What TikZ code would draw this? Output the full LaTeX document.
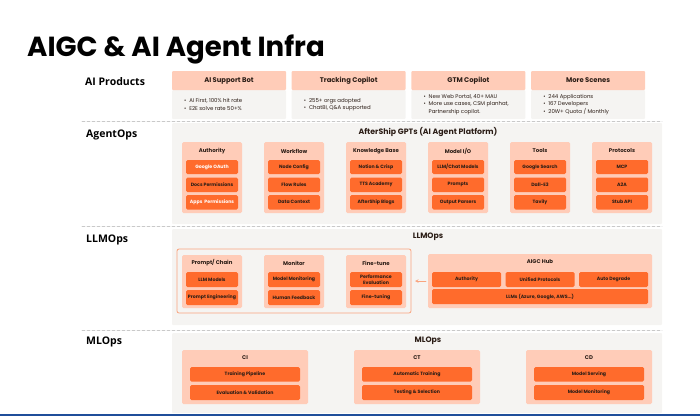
\documentclass[tikz,border=0pt]{standalone}
\usepackage{fontspec}
\setmainfont{Poppins}
\newfontfamily\labelfont{Open Sans}
\usetikzlibrary{positioning}

\definecolor{peach}{HTML}{FFCCB8}
\definecolor{hotorange}{HTML}{FF6B2C}
\definecolor{panelgray}{HTML}{F5F4F2}
\definecolor{inkdark}{HTML}{2B1D16}
\definecolor{dashgray}{HTML}{C9C9C9}
\definecolor{lineorange}{HTML}{F9A47E}
\definecolor{barblue}{HTML}{1F4E9A}

\begin{document}
\begin{tikzpicture}[x=1pt, y=-1pt, line cap=round, line join=round, >=stealth, text=inkdark]
	\tikzset{
		box/.style={inner sep=0pt, outer sep=0pt, anchor=north west},
		panel/.style={box, fill=panelgray, rounded corners=1pt},
		grp/.style={box, fill=peach, rounded corners=1.5pt},
		item/.style={box, fill=hotorange, rounded corners=1.5pt, align=center, font=\fontsize{4.7}{5.4}\selectfont\bfseries},
		grphead/.style={font=\fontsize{5.4}{6}\selectfont\bfseries},
		cardhead/.style={box, fill=peach, rounded corners=1pt, minimum width=114, minimum height=19, font=\fontsize{6.8}{8}\selectfont\bfseries},
		cardbody/.style={box, fill=panelgray, rounded corners=1pt, minimum width=114, minimum height=29},
		bullets/.style={anchor=west, align=left, inner sep=0pt, font=\fontsize{5.4}{7.4}\selectfont},
		secname/.style={anchor=west, inner sep=0pt, font=\labelfont\bfseries\fontsize{10.5}{12}\selectfont, text=black},
		midtitle/.style={inner sep=0pt, font=\fontsize{7.8}{9}\selectfont\bfseries},
		sepline/.style={dashgray, dash pattern=on 3pt off 2pt, line width=0.7pt}
	}
	\useasboundingbox (0,0) rectangle (700,416);

	% title
	\node[anchor=base west, inner sep=0pt, font=\bfseries\fontsize{27.6}{32}\selectfont, text=black] (title) at (27,56) {AIGC \& AI Agent Infra};

	% section names
	\node[secname] (sProd) at (85,81.5) {AI Products};
	\node[secname] (sAgent) at (86,135) {AgentOps};
	\node[secname] (sLLM) at (86,240) {LLMOps};
	\node[secname] (sML) at (86,342) {MLOps};

	% separators
	\draw[sepline] (82,121) -- (662,121);
	\draw[sepline] (82,226.5) -- (662,226.5);
	\draw[sepline] (82,330) -- (662,330);

	% AI products
	\foreach \i/\ttl/\txt in {
		0/AI Support Bot/{\textbullet~ AI First, 100\% hit rate\\\textbullet~ E2E solve rate 50+\%},
		1/Tracking Copilot/{\textbullet~ 255+ orgs adopted\\\textbullet~ ChatBI, Q\&A supported},
		2/GTM Copilot/{\textbullet~ New Web Portal, 40+ MAU\\\textbullet~ More use cases, CSM planhat,\\\phantom{\textbullet~ }Partnership copilot.},
		3/More Scenes/{\textbullet~ 244 Applications\\\textbullet~ 167 Developers\\\textbullet~ 20W+ Quota / Monthly}}
	{
		\pgfmathsetmacro{\cx}{172+119.7*\i}
		\node[cardbody] (pb\i) at (\cx,90) {};
		\node[cardhead] (ph\i) at (\cx,71) {\ttl};
		\node[bullets] (pt\i) at (\cx+12,104.5) {\txt};
	}

	% AgentOps
	\node[panel, minimum width=490, minimum height=101] (agentPanel) at (172,123) {};
	\node[midtitle] (agentTitle) at (428,132) {AfterShip GPTs (AI Agent Platform)};
	\foreach \i/\hd/\ia/\ib/\ic in {
		0/Authority/{\color{white}Google OAuth}/Docs Permissions/{\color{white}Apps~ Permissions},
		1/Workflow/Node Config/Flow Rules/Data Context,
		2/Knowledge Base/Notion \& Crisp/TTS Academy/AfterShip Blogs,
		3/{Model I/O}/{LLM/Chat Models}/Prompts/Output Parsers,
		4/Tools/Google Search/Dall-E3/Tavily,
		5/Protocols/MCP/A2A/Stub API}
	{
		\pgfmathsetmacro{\gx}{182+82*\i}
		\node[grp, minimum width=60, minimum height=71] (ag\i) at (\gx,142) {};
		\node[grphead] (agh\i) at (\gx+30,151) {\hd};
		\node[item, minimum width=52, minimum height=14] (ag\i-1) at (\gx+4,160) {\ia};
		\node[item, minimum width=52, minimum height=14.5] (ag\i-2) at (\gx+4,177.5) {\ib};
		\node[item, minimum width=52, minimum height=14.5] (ag\i-3) at (\gx+4,195) {\ic};
	}

	% LLMOps
	\node[panel, minimum width=490, minimum height=96] (llmPanel) at (172,229) {};
	\node[midtitle] (llmTitle) at (428,237) {LLMOps};
	\node[box, draw=lineorange, line width=0.8pt, rounded corners=2pt, minimum width=234, minimum height=64] (chainBox) at (177,249) {};
	\foreach \i/\hd/\ia/\ib in {
		0/{Prompt/ Chain}/LLM Models/Prompt Engineering,
		1/Monitor/Model Monitoring/Human Feedback,
		2/Fine-tune/{Performance\\Evaluation}/Fine-tuning}
	{
		\pgfmathsetmacro{\gx}{182+82*\i}
		\node[grp, minimum width=60, minimum height=53] (lg\i) at (\gx,255) {};
		\node[grphead] (lgh\i) at (\gx+30,263) {\hd};
		\node[item, minimum width=52, minimum height=15] (lg\i-1) at (\gx+4,272) {\ia};
		\node[item, minimum width=52, minimum height=15] (lg\i-2) at (\gx+4,290) {\ib};
	}
	\node[grp, minimum width=224, minimum height=54] (hub) at (428,254) {};
	\node[grphead] (hubh) at (540,262) {AIGC Hub};
	\node[item, minimum width=69, minimum height=15] (hub1) at (432,272) {Authority};
	\node[item, minimum width=69, minimum height=15] (hub2) at (505.5,272) {Unified Protocols};
	\node[item, minimum width=69, minimum height=15] (hub3) at (579,272) {Auto Degrade};
	\node[item, minimum width=216, minimum height=15] (hub4) at (432,289) {LLMs (Azure, Google, AWS...)};
	\draw[->, lineorange, line width=0.6pt, shorten <=2pt, shorten >=4pt] (hub.west) -- (chainBox.east);

	% MLOps
	\node[panel, minimum width=490, minimum height=80] (mlPanel) at (172,333) {};
	\node[midtitle] (mlTitle) at (428,341) {MLOps};
	\foreach \i/\hd/\ia/\ib in {
		0/CI/Training Pipeline/Evaluation \& Validation,
		1/CT/Automatic Training/Testing \& Selection,
		2/CD/Model Serving/Model Monitoring}
	{
		\pgfmathsetmacro{\gx}{182+172*\i}
		\node[grp, minimum width=126, minimum height=54] (mg\i) at (\gx,350) {};
		\node[grphead] (mgh\i) at (\gx+63,358) {\hd};
		\node[item, minimum width=110, minimum height=14.5] (mg\i-1) at (\gx+8,367) {\ia};
		\node[item, minimum width=110, minimum height=15] (mg\i-2) at (\gx+8,385) {\ib};
	}

	% bottom bar
	\draw[barblue, line width=2pt, line cap=butt] (0,415) -- (700,415);
\end{tikzpicture}
\end{document}
